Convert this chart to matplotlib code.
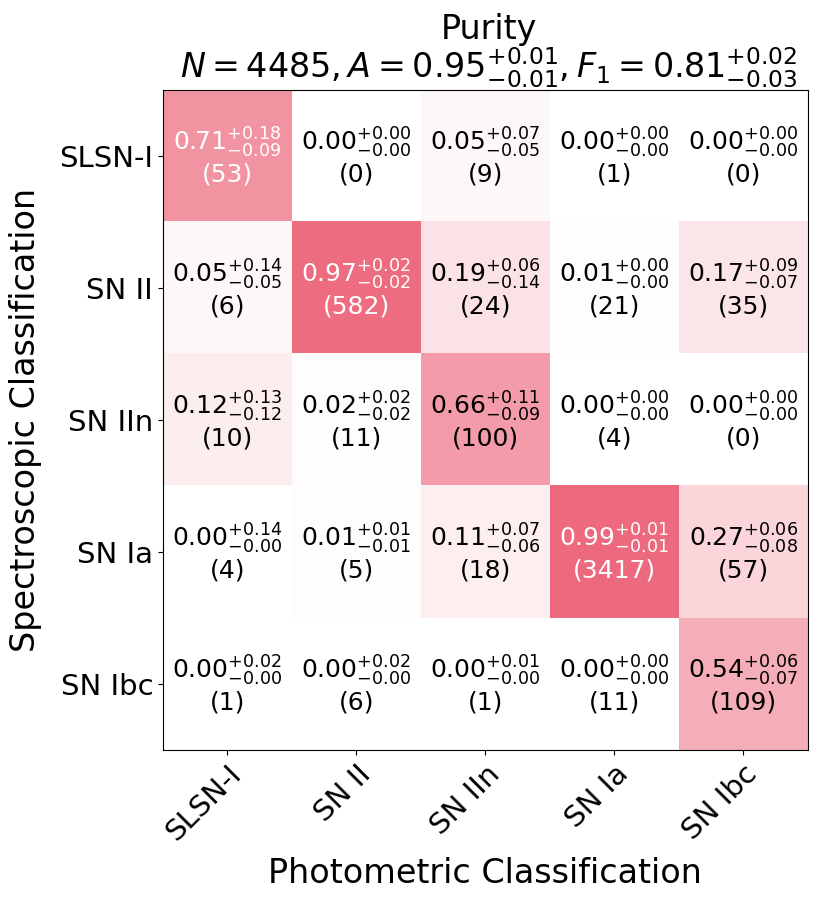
import numpy as np
import matplotlib
matplotlib.use("Agg")
import matplotlib.pyplot as plt
from matplotlib.colors import LinearSegmentedColormap

classes = ["SLSN-I", "SN II", "SN IIn", "SN Ia", "SN Ibc"]

purity = np.array([
    [0.71, 0.00, 0.05, 0.00, 0.00],
    [0.05, 0.97, 0.19, 0.01, 0.17],
    [0.12, 0.02, 0.66, 0.00, 0.00],
    [0.00, 0.01, 0.11, 0.99, 0.27],
    [0.00, 0.00, 0.00, 0.00, 0.54],
])
err_plus = np.array([
    [0.18, 0.00, 0.07, 0.00, 0.00],
    [0.14, 0.02, 0.06, 0.00, 0.09],
    [0.13, 0.02, 0.11, 0.00, 0.00],
    [0.14, 0.01, 0.07, 0.01, 0.06],
    [0.02, 0.02, 0.01, 0.00, 0.06],
])
err_minus = np.array([
    [0.09, 0.00, 0.05, 0.00, 0.00],
    [0.05, 0.02, 0.14, 0.00, 0.07],
    [0.12, 0.02, 0.09, 0.00, 0.00],
    [0.00, 0.01, 0.06, 0.01, 0.08],
    [0.00, 0.00, 0.00, 0.00, 0.07],
])
counts = np.array([
    [53, 0, 9, 1, 0],
    [6, 582, 24, 21, 35],
    [10, 11, 100, 4, 0],
    [4, 5, 18, 3417, 57],
    [1, 6, 1, 11, 109],
])

cmap = LinearSegmentedColormap.from_list("pur", ["#FFFFFF", "#ED687C"])

fig = plt.figure(figsize=(8.31, 9.05), dpi=100)
ax = fig.add_axes([0.196, 0.171, 0.776, 0.7296])
ax.imshow(purity, cmap=cmap, vmin=0, vmax=1, aspect="auto")

for i in range(5):
    for j in range(5):
        v = purity[i, j]
        col = "white" if v > 0.7 else "black"
        txt = (r"$%.2f^{+%.2f}_{-%.2f}$" % (v, err_plus[i, j], err_minus[i, j])
               + "\n(%d)" % counts[i, j])
        ax.text(j, i, txt, ha="center", va="center", fontsize=18, color=col,
                linespacing=1.1)

ax.set_xticks(range(5))
ax.set_yticks(range(5))
ax.set_xticklabels(classes, rotation=45, ha="right", rotation_mode="anchor", fontsize=21)
ax.set_yticklabels(classes, fontsize=21)
ax.set_xlabel("Photometric Classification", fontsize=24, labelpad=8)
ax.set_ylabel("Spectroscopic Classification", fontsize=24, labelpad=12)
ax.set_title("Purity\n" + r"$N=4485, A=0.95^{+0.01}_{-0.01}, F_1=0.81^{+0.02}_{-0.03}$",
             fontsize=24, pad=-2, linespacing=1.0, x=0.505)

fig.savefig("out.png", dpi=100)
